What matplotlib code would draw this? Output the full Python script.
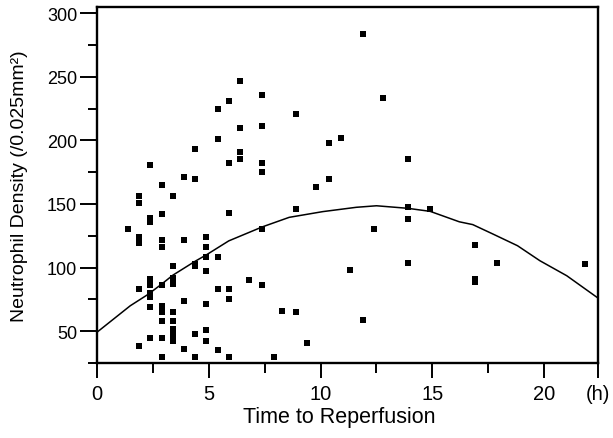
import matplotlib
matplotlib.use("Agg")
import matplotlib.pyplot as plt
from matplotlib.ticker import MultipleLocator

plt.rcParams["font.family"] = ["Liberation Sans", "DejaVu Sans"]

# 散布図のデータ（時間ごとの列）
time_h = [1.4,
          1.9, 1.9, 1.9, 1.9, 1.9, 1.9,
          2.4, 2.4, 2.4, 2.4, 2.4, 2.4, 2.4, 2.4, 2.4,
          2.9, 2.9, 2.9, 2.9, 2.9, 2.9, 2.9, 2.9, 2.9, 2.9,
          3.4, 3.4, 3.4, 3.4, 3.4, 3.4, 3.4, 3.4, 3.4,
          3.9, 3.9, 3.9, 3.9,
          4.4, 4.4, 4.4, 4.4, 4.4, 4.4,
          4.9, 4.9, 4.9, 4.9, 4.9, 4.9, 4.9,
          5.4, 5.4, 5.4, 5.4, 5.4,
          5.9, 5.9, 5.9, 5.9, 5.9, 5.9,
          6.4, 6.4, 6.4, 6.4,
          6.8,
          7.4, 7.4, 7.4, 7.4, 7.4, 7.4,
          7.9, 8.3,
          8.9, 8.9, 8.9,
          9.4, 9.8,
          10.4, 10.4,
          10.9, 11.3,
          11.9, 11.9,
          12.4, 12.8,
          13.9, 13.9, 13.9, 13.9,
          14.9,
          16.9, 16.9, 16.9,
          17.9, 21.8]
density = [130,
           156, 151, 124, 119, 83, 38,
           181, 139, 136, 91, 86, 80, 77, 69, 45,
           165, 142, 122, 116, 86, 70, 65, 58, 45, 30,
           156, 101, 92, 87, 65, 58, 52, 47, 42,
           171, 122, 74, 36,
           193, 170, 103, 101, 48, 30,
           124, 116, 108, 97, 71, 51, 42,
           225, 201, 108, 83, 35,
           231, 182, 143, 83, 75, 30,
           247, 210, 191, 185,
           90,
           236, 211, 182, 175, 130, 86,
           30, 66,
           221, 146, 65,
           41, 163,
           198, 170,
           202, 98,
           284, 59,
           130, 233,
           185, 148, 138, 104,
           146,
           118, 91, 89,
           104, 103]

# 回帰曲線（図から読み取った点）
curve_x = [0, 1.5, 2.3, 2.9, 3.4, 4.4, 4.9, 5.9, 7.4, 8.6, 10.1, 11.6,
           12.5, 13.9, 14.9, 16.2, 16.8, 17.7, 18.8, 19.8, 21.0, 22.4]
curve_y = [49, 70, 79, 87, 94, 105, 110, 121, 132, 139.5, 144, 147.4,
           148.6, 146.6, 144.2, 136, 133.8, 126.4, 117.2, 105.4, 93.6, 76]

x_end = 22.4
x_ticks = [0, 5, 10, 15, 20, x_end]
x_labels = ["0", "5", "10", "15", "20", "(h)"]
y_ticks = [50, 100, 150, 200, 250, 300]

fig = plt.figure(figsize=(6.13, 4.39), dpi=100)
ax = fig.add_axes([0.1577, 0.1708, 0.818, 0.810])

ax.scatter(time_h, density, marker="s", s=16, color="black", linewidths=0, zorder=3)
ax.plot(curve_x, curve_y, color="black", lw=1.1)

ax.set_xlim(0, x_end)
ax.set_ylim(25, 304.5)
ax.set_xticks(x_ticks)
ax.set_xticklabels(x_labels)
ax.xaxis.set_minor_locator(MultipleLocator(2.5))
ax.set_yticks(y_ticks)
ax.yaxis.set_minor_locator(MultipleLocator(25))

for s in ax.spines.values():
    s.set_linewidth(1.7)
ax.tick_params(axis="x", which="major", length=11, width=1.4, labelsize=14.5, pad=4)
ax.tick_params(axis="x", which="minor", length=7, width=1.4)
ax.tick_params(axis="y", which="major", length=12, width=1.4, labelsize=13, pad=2)
ax.tick_params(axis="y", which="minor", length=6.5, width=1.4)

ax.set_xlabel("Time to Reperfusion", fontsize=15.5)
ax.xaxis.set_label_coords(0.483, -0.12)
ax.xaxis.label.set_va("top")
ax.set_ylabel("Neutrophil Density (/0.025mm²)", fontsize=14)
ax.yaxis.set_label_coords(-0.137, 0.5)

fig.savefig("out.png", dpi=100)
